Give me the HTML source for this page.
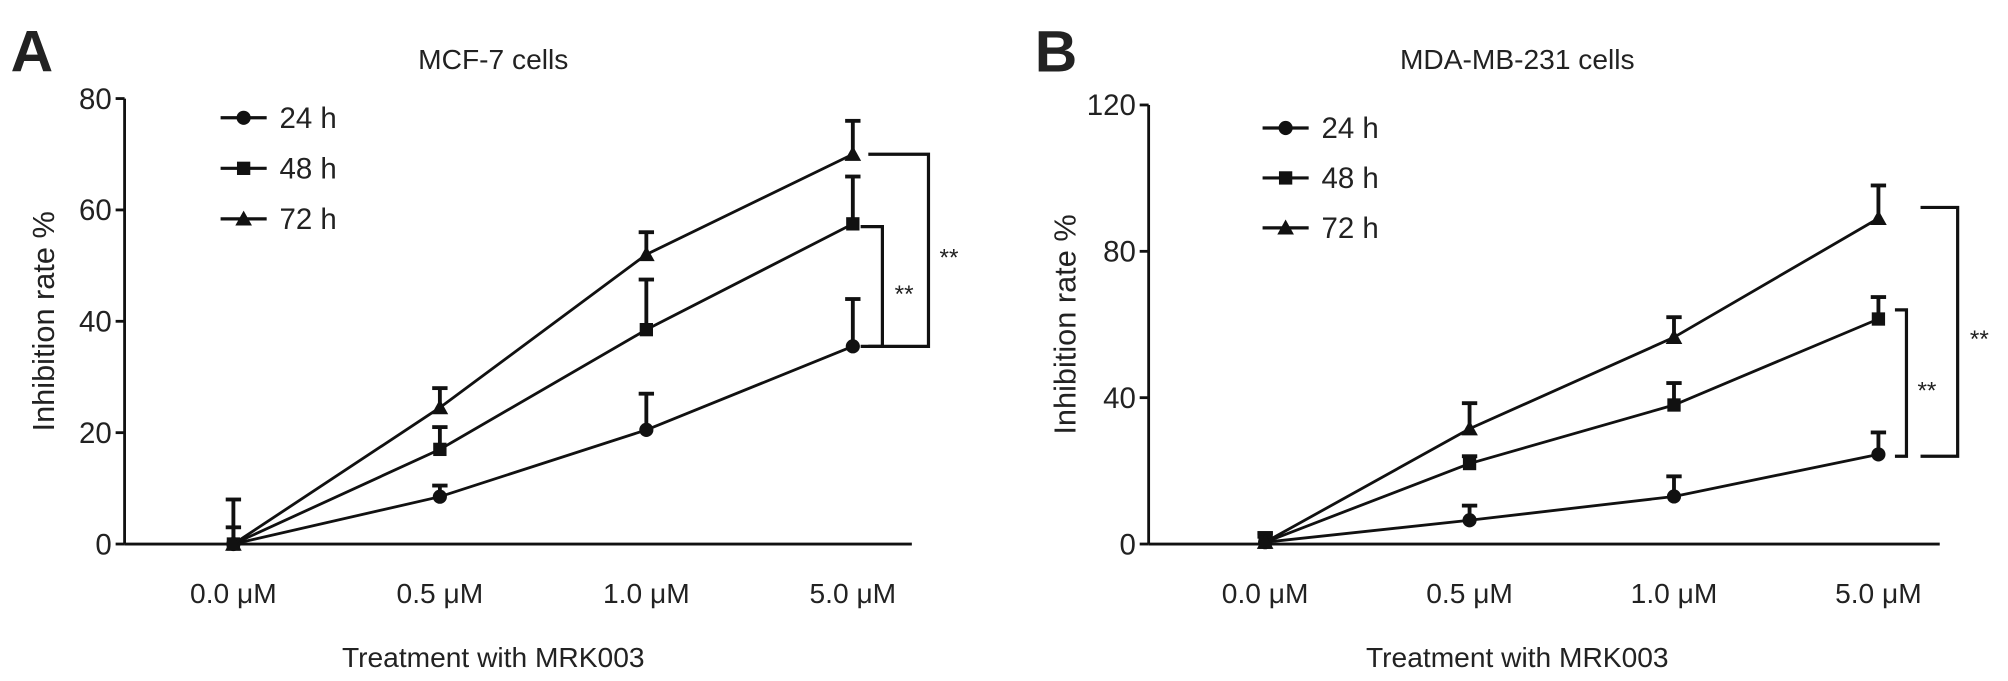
<!DOCTYPE html>
<html><head><meta charset="utf-8"><style>
html,body{margin:0;padding:0;background:#fff}
svg{display:block}
text{font-family:"Liberation Sans",sans-serif;fill:#222}
</style></head><body>
<svg id="fig" width="2008" height="681" viewBox="0 0 1568 532"></svg>
<script>
const categories=["0.0 μM","0.5 μM","1.0 μM","5.0 μM"];
const seriesNames=["24 h","48 h","72 h"];
const aTicks=[0,20,40,60,80];
const a24=[0,8.5,20.5,35.5], a48=[0,17,38.5,57.5], a72=[0,24.5,52,70];
const a24e=[8,2,6.5,8.5], a48e=[3,4,9,8.5], a72e=[0,3.5,4,6];
const bTicks=[0,40,80,120];
const b24=[0.5,6.5,13,24.5], b48=[0.5,22,38,61.5], b72=[0.5,31.5,56.5,89];
const b24e=[2.5,4,5.5,6], b48e=[1.5,2,6,6], b72e=[2.5,7,5.5,9];

const NS="http://www.w3.org/2000/svg";
const svg=document.getElementById('fig');
function el(tag,attrs,parent,txt){const e=document.createElementNS(NS,tag);for(const k in attrs)e.setAttribute(k,attrs[k]);if(txt!==undefined)e.textContent=txt;(parent||svg).appendChild(e);return e;}
function marker(g,type,x,y,s){
  let m;
  if(type===0) m=el('circle',{cx:x,cy:y,r:s*0.85,fill:'#111'},g);
  else if(type===1) m=el('rect',{x:x-s*0.8,y:y-s*0.8,width:s*1.6,height:s*1.6,fill:'#111'},g);
  else m=el('polygon',{points:`${x},${y-s} ${x-s},${y+s*0.8} ${x+s},${y+s*0.8}`,fill:'#111'},g);
  return m;
}
function panel(o){
  const g=el('g',{});
  
  
  const y=v=>o.y0-(v/o.ymax)*(o.y0-o.yTop);
  const x=i=>o.xs[0]+i*(o.xs[1]-o.xs[0]);
  const L=el('text',{x:o.lx,y:56,'font-size':46,'font-weight':'bold'},g,o.letter);
  
  const T=el('text',{x:o.tx,y:54,'font-size':22,'text-anchor':'middle'},g,o.title);
  
  const ya=el('line',{x1:o.ax,y1:y(o.ymax),x2:o.ax,y2:o.y0,stroke:'#111','stroke-width':2.2},g);
  
  const xa=el('line',{x1:o.ax,y1:o.y0,x2:o.xend,y2:o.y0,stroke:'#111','stroke-width':2.2},g);
  
  o.ticks.forEach(t=>{
    el('line',{x1:o.ax-7,y1:y(t),x2:o.ax,y2:y(t),stroke:'#111','stroke-width':2.2},g);
    const tl=el('text',{x:o.ax-10,y:y(t)+8,'font-size':23,'text-anchor':'end'},g,t);
    
  });
  categories.forEach((c,i)=>{
    const tl=el('text',{x:x(i),y:471,'font-size':22,'text-anchor':'middle'},g,c);
    
  });
  const yt=el('text',{transform:`translate(${o.ytx},${(o.y0+y(o.ymax))/2}) rotate(-90)`,'font-size':24,'text-anchor':'middle'},g,'Inhibition rate %');
  
  const xt=el('text',{x:o.tx,y:521,'font-size':22,'text-anchor':'middle'},g,'Treatment with MRK003');
  
  o.series.forEach((s,si)=>{
    const sg=el('g',{},g);
    
    
    el('polyline',{points:s.v.map((v,i)=>x(i)+','+y(v)).join(' '),fill:'none',stroke:'#111','stroke-width':2.2},sg);
    s.v.forEach((v,i)=>{
      if(s.e[i]>0){
        el('line',{x1:x(i),y1:y(v),x2:x(i),y2:y(v+s.e[i]),stroke:'#111','stroke-width':3},sg);
        el('line',{x1:x(i)-6,y1:y(v+s.e[i]),x2:x(i)+6,y2:y(v+s.e[i]),stroke:'#111','stroke-width':3},sg);
      }
      marker(sg,si,x(i),y(v),6.5);
    });
    const lg=el('g',{},g);
    
    
    const ly=o.legY+si*o.legGap;
    el('line',{x1:o.legX,y1:ly,x2:o.legX+36,y2:ly,stroke:'#111','stroke-width':2.5},lg);
    marker(lg,si,o.legX+18,ly,6.5);
    el('text',{x:o.legX+46,y:ly+8,'font-size':23},lg,seriesNames[si]);
  });
  o.brackets.forEach(b=>{
    const bg=el('g',{},g);
    
    
    el('polyline',{points:`${b.x0},${y(b.top)} ${b.x1},${y(b.top)} ${b.x1},${y(b.bot)} ${b.x0},${y(b.bot)}`,fill:'none',stroke:'#111','stroke-width':2.5},bg);
    el('text',{x:b.sx,y:(y(b.top)+y(b.bot))/2+12,'font-size':19,'text-anchor':'middle'},bg,'**');
  });
}
panel({id:'mcf7',letter:'A',lx:8,title:'MCF-7 cells',tx:385,ax:97,y0:425,yTop:77,ymax:80,xend:712,xs:[182,343.3],ticks:aTicks,ytx:42,
  legX:172,legY:92,legGap:39.5,
  series:[{v:a24,e:a24e},{v:a48,e:a48e},{v:a72,e:a72e}],
  brackets:[{x0:678,x1:725,top:70,bot:35.5,sx:741},{x0:672,x1:689,top:57,bot:35.5,sx:706}]});
panel({id:'mdamb231',letter:'B',lx:808,title:'MDA-MB-231 cells',tx:1185,ax:897,y0:425,yTop:82,ymax:120,xend:1515,xs:[988,1147.7],ticks:bTicks,ytx:840,
  legX:986,legY:100,legGap:39,
  series:[{v:b24,e:b24e},{v:b48,e:b48e},{v:b72,e:b72e}],
  brackets:[{x0:1500,x1:1529,top:92,bot:24,sx:1546},{x0:1480,x1:1489,top:64,bot:24,sx:1505}]});
</script>
</body></html>
